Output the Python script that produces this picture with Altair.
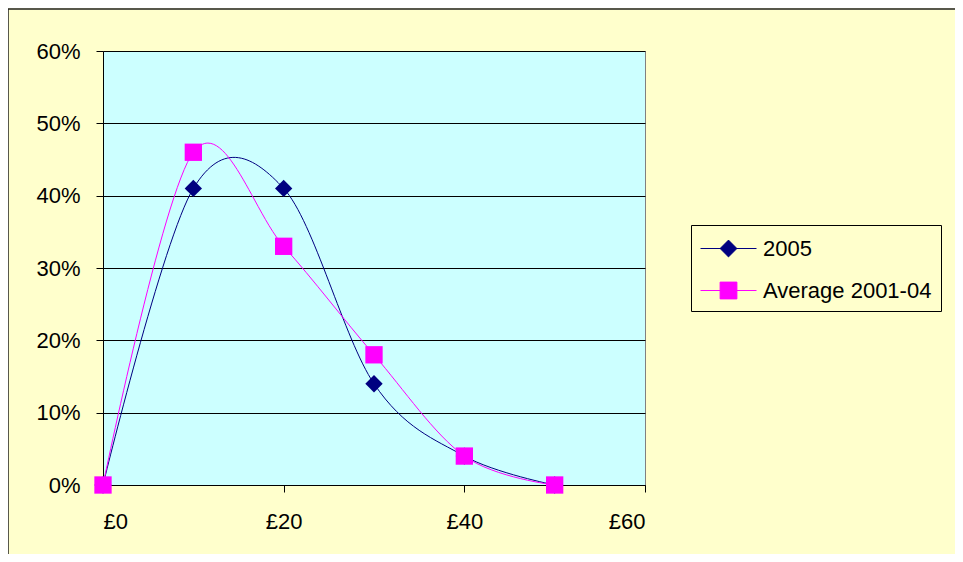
import altair as alt
import pandas as pd

# ---- data ----
x_values = [0, 10, 20, 30, 40, 50]
series_2005 = [0.0, 0.41, 0.41, 0.14, 0.04, 0.0]
series_avg = [0.0, 0.46, 0.33, 0.18, 0.04, 0.0]
series_names = ["2005", "Average 2001-04"]
series_colors = ["#000080", "#FF00FF"]
x_ticks = [0, 20, 40, 60]
y_ticks = [0, 0.1, 0.2, 0.3, 0.4, 0.5, 0.6]

rows = []
for name, vals in zip(series_names, [series_2005, series_avg]):
    for xv, yv in zip(x_values, vals):
        rows.append({"series": name, "x": xv, "y": yv})
df = pd.DataFrame(rows)

FONT = "Liberation Sans"
FSIZE = 22

x_enc = alt.X("x:Q", scale=alt.Scale(domain=[0, 60], nice=False),
              axis=alt.Axis(values=x_ticks, labelExpr="'£' + datum.value", title=None,
                            grid=False, tickSize=7, labelPadding=19,
                            domainColor="#000000", tickColor="#000000"))
y_enc = alt.Y("y:Q", scale=alt.Scale(domain=[0, 0.6], nice=False),
              axis=alt.Axis(values=y_ticks, format=".0%", title=None,
                            grid=True, gridColor="#000000", gridWidth=1,
                            tickSize=7, labelPadding=16,
                            domainColor="#000000", tickColor="#000000"))

color_scale = alt.Scale(domain=series_names, range=series_colors)

# legend glyphs: a line segment through the series marker
legend_paths = [
    "M-2,0H2M0,-0.6L0.6,0L0,0.6L-0.6,0Z",
    "M-2,0H2M-0.6,-0.6H0.6V0.6H-0.6Z",
]


def make_legend():
    return alt.Legend(
        orient="none", legendX=588, legendY=174, title=None,
        padding=9, strokeColor="#000000", fillColor="#FFFFCC",
        labelFont=FONT, labelFontSize=FSIZE, labelColor="#000000", labelLimit=400,
        symbolSize=784, symbolStrokeWidth=1, symbolOffset=14, labelOffset=20,
        rowPadding=16, symbolOpacity=1,
    )


lines = alt.Chart(df).mark_line(interpolate="cardinal", tension=0, strokeWidth=1).encode(
    x=x_enc,
    y=y_enc,
    color=alt.Color("series:N", scale=color_scale, sort=series_names, legend=None),
    detail="series:N",
    order="x:Q",
)

pts_2005 = alt.Chart(df).transform_filter(alt.datum.series == "2005").mark_point(
    filled=True, opacity=1, shape="diamond", size=300).encode(
    x="x:Q", y="y:Q",
    color=alt.Color("series:N", scale=color_scale, legend=None),
)
pts_avg = alt.Chart(df).transform_filter(alt.datum.series == "Average 2001-04").mark_point(
    filled=True, opacity=1, shape="square", size=300).encode(
    x="x:Q", y="y:Q",
    color=alt.Color("series:N", scale=color_scale, legend=None),
)

legend_layer = alt.Chart(df).transform_filter("false").mark_point(filled=True, opacity=1).encode(
    x="x:Q", y="y:Q",
    color=alt.Color("series:N", scale=color_scale, legend=make_legend()),
    stroke=alt.Stroke("series:N", scale=alt.Scale(domain=series_names, range=series_colors), legend=make_legend()),
    shape=alt.Shape("series:N", scale=alt.Scale(domain=series_names, range=legend_paths), legend=make_legend()),
)

frame_df = pd.DataFrame({"k": [0]})
frame_top = alt.Chart(frame_df).mark_rule(color="#202020", strokeWidth=1.5).encode(
    x=alt.value(-95), x2=alt.value(860), y=alt.value(-42))
frame_left = alt.Chart(frame_df).mark_rule(color="#202020", strokeWidth=1.5).encode(
    x=alt.value(-95), y=alt.value(-42), y2=alt.value(503))

chart = alt.layer(lines, pts_2005, pts_avg, legend_layer, frame_top, frame_left).resolve_legend(
    color="independent", stroke="independent", shape="independent"
).properties(
    width=542, height=434,
    autosize=alt.AutoSizeParams(type="none"),
    padding={"left": 95, "top": 43, "right": 310, "bottom": 69},
    background="#FFFFCC",
).configure_view(
    fill="#CCFFFF", stroke="#808080", strokeWidth=1
).configure_axis(
    labelFont=FONT, labelFontSize=FSIZE, labelColor="#000000"
)

chart.save("out.html", embed_options={"renderer": "svg", "actions": False})
